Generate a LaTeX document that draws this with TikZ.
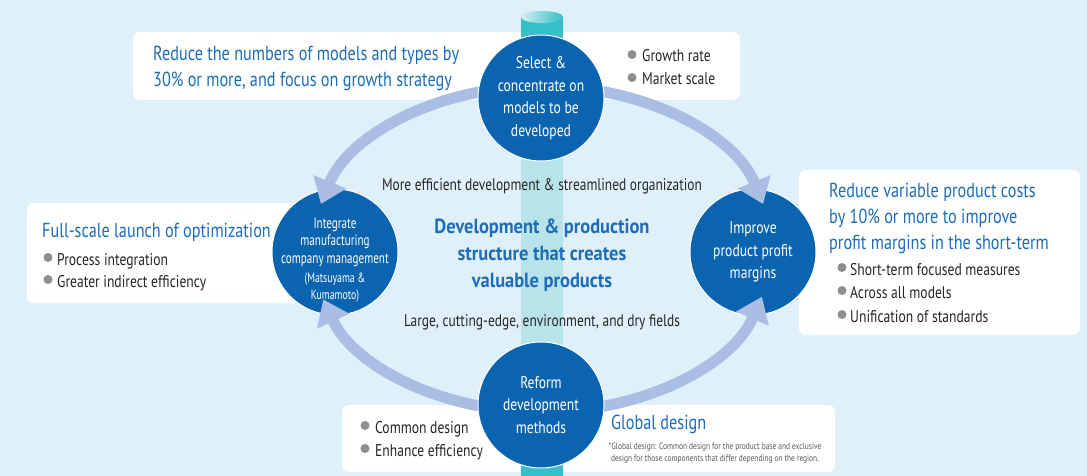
\documentclass[tikz,border=0pt]{standalone}
\usepackage{fontspec}
\setmainfont{PT Sans}[FakeStretch=0.8]
\newfontfamily\corefont{PT Sans}[FakeStretch=0.9]
\newfontfamily\tightfont{PT Sans}[FakeStretch=0.73]
\usetikzlibrary{arrows.meta}

\definecolor{bgc}{HTML}{E0F0FA}
\definecolor{ringc}{HTML}{AABDE3}
\definecolor{hubc}{HTML}{0A64AF}
\definecolor{headc}{HTML}{1D6DB7}
\definecolor{txtc}{HTML}{262626}
\definecolor{dotc}{HTML}{8E8E8E}
\definecolor{notec}{HTML}{5A5A5A}
\definecolor{pillarc}{HTML}{B9E3EA}
\definecolor{tealc}{HTML}{36BFC8}
\definecolor{capc}{HTML}{D2EFF2}

\tikzset{
  panel/.style={fill=white, rounded corners=7pt},
  ring/.style={draw=ringc, line width=11pt, -{Triangle[width=34pt,length=24pt]}},
  hub/.style={circle, fill=hubc, draw=white, line width=1pt, minimum size=126pt,
    inner sep=0pt, text=white, align=center},
  hubtext/.style={text=white, align=center, font=\fontsize{17}{22.5}\selectfont},
  head/.style={text=headc, font=\fontsize{20.3}{26}\selectfont, align=left, anchor=base west, inner sep=0pt},
  item/.style={text=txtc, font=\fontsize{17}{23}\selectfont, anchor=base west, inner sep=0pt},
  dot/.style={fill=dotc},
  middle/.style={text=txtc, font=\fontsize{16.8}{20}\selectfont, anchor=base, inner sep=0pt},
}

\begin{document}
\begin{tikzpicture}[x=1pt,y=-1pt]
\useasboundingbox (0,0) rectangle (1087,476);
\fill[bgc] (0,0) rectangle (1087,476);

% white panels
\fill[panel] (133,32) rectangle (740,100);
\fill[panel] (27,203) rectangle (335,303);
\fill[panel] (799,170) rectangle (1080,335);
\fill[panel] (342,405) rectangle (835,472);

% central pillar
\fill[pillarc] (521,17) rectangle (563,476);
\fill[tealc] (521,17) rectangle (563,60);
\fill[tealc] (521,440) rectangle (563,476);
\shade[left color=capc, right color=tealc] (542,17) ellipse (21 and 6);

% left and right hubs sit under the arrow heads
\node[hub] (left) at (335,252) {};
\node[hub] (right) at (753,252) {};

% the cycle of arrows
\coordinate (o) at (542,249);
\draw[ring] (o) ++(270:230 and 163) arc[start angle=270, end angle=196, x radius=230, y radius=163];
\draw[ring] (o) ++(270:230 and 163) arc[start angle=270, end angle=344, x radius=230, y radius=163];
\draw[ring] (o) ++(90:230 and 163) arc[start angle=90, end angle=17, x radius=230, y radius=163];
\draw[ring] (o) ++(90:230 and 163) arc[start angle=90, end angle=162, x radius=230, y radius=163];

% top and bottom hubs cover the arrow tails
\node[hub] (top) at (541,98) {};
\node[hub] (bottom) at (541,405) {};

% hub labels
\node[hubtext] (toplbl) at (top) {Select \&\\concentrate on\\models to be\\developed};
\node[text=white, align=center, font=\tightfont\fontsize{15.2}{17.5}\selectfont] (leftlbl) at ([yshift=-8]left.center)
  {Integrate\\manufacturing\\company management\\[1.5pt]{\fontsize{13.4}{15}\selectfont(Matsuyama \&}\\{\fontsize{13.4}{15}\selectfont Kumamoto)}};
\node[hubtext] (rightlbl) at (right) {Improve\\product profit\\margins};
\node[hubtext] (bottomlbl) at (bottom) {Reform\\development\\methods};

% centre texts
\node[middle] (upper) at (542,190) {More efficient development \& streamlined organization};
\node[text=headc, font=\corefont\bfseries\fontsize{20.5}{27}\selectfont, align=center, anchor=base, inner sep=0pt] (core) at (542,287)
  {Development \& production\\structure that creates\\valuable products};
\node[middle] (lower) at (542,326) {Large, cutting-edge, environment, and dry fields};

% top panel texts
\node[head] (goalA) at (153,87) {Reduce the numbers of models and types by\\30\% or more, and focus on growth strategy};
\fill[dot] (632,54.5) circle (4.5);
\node[item] (a1) at (642,62) {Growth rate};
\fill[dot] (632,77.5) circle (4.5);
\node[item] (a2) at (642,85) {Market scale};

% left panel texts
\node[head] (goalB) at (42,237) {Full-scale launch of optimization};
\fill[dot] (48,257.5) circle (4.5);
\node[item] (b1) at (57,265) {Process integration};
\fill[dot] (48,279.5) circle (4.5);
\node[item] (b2) at (57,287) {Greater indirect efficiency};

% right panel texts
\node[head] (goalC) at (829,249) {Reduce variable product costs\\by 10\% or more to improve\\profit margins in the short-term};
\fill[dot] (842,267.5) circle (4.5);
\node[item] (c1) at (850,275) {Short-term focused measures};
\fill[dot] (842,290.5) circle (4.5);
\node[item] (c2) at (850,298) {Across all models};
\fill[dot] (842,314.5) circle (4.5);
\node[item] (c3) at (850,322) {Unification of standards};

% bottom panel texts
\fill[dot] (365,425.5) circle (4.5);
\node[item] (d1) at (375,433) {Common design};
\fill[dot] (365,448.5) circle (4.5);
\node[item] (d2) at (375,456) {Enhance efficiency};
\node[head] (goalD) at (611,429) {Global design};
\node[text=notec, font=\fontsize{9.3}{12}\selectfont, align=center, anchor=base, inner sep=0pt] (note) at (715,461)
  {*Global design: Common design for the product base and exclusive\\design for those components that differ depending on the region.};
\end{tikzpicture}
\end{document}
